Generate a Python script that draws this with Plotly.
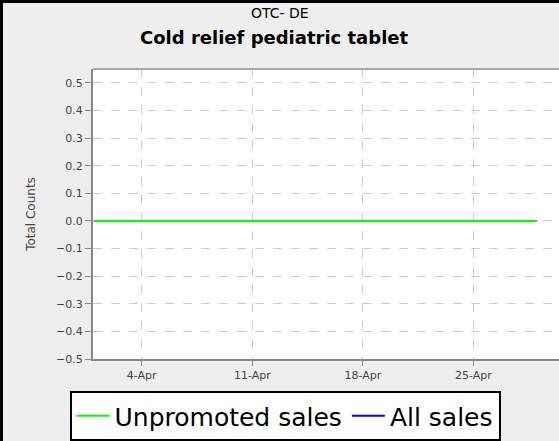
import plotly.graph_objects as go
import pandas as pd

dates = pd.date_range("2011-04-01", "2011-04-29", freq="D").strftime("%Y-%m-%d").tolist()
unpromoted = [0] * len(dates)
all_sales = [0] * len(dates)
tick_vals = ["2011-04-04", "2011-04-11", "2011-04-18", "2011-04-25"]
tick_text = ["4-Apr", "11-Apr", "18-Apr", "25-Apr"]
y_ticks = [-0.5, -0.4, -0.3, -0.2, -0.1, 0.0, 0.1, 0.2, 0.3, 0.4, 0.5]

W, H = 559, 441
L, R, T, B = 93, 0, 69, 82
PW, PH = W - L - R, H - T - B


def px(x):
    return (x - L) / PW


def py(y):
    return (H - B - y) / PH


fig = go.Figure()
fig.add_trace(go.Scatter(x=dates, y=all_sales, mode="lines", name="All sales",
                         line=dict(color="#0000ff", width=2), legendrank=2))
fig.add_trace(go.Scatter(x=dates, y=unpromoted, mode="lines", name="Unpromoted sales",
                         line=dict(color="#00ff00", width=2), legendrank=1))

fig.update_layout(
    width=W, height=H,
    margin=dict(l=L, r=R, t=T, b=B, autoexpand=False),
    paper_bgcolor="#000000",
    plot_bgcolor="#ffffff",
    font=dict(family="DejaVu Sans", color="#444444"),
    showlegend=True,
    legend=dict(orientation="h", x=px(285), xanchor="center", y=py(391), yanchor="top",
                bgcolor="#ffffff", bordercolor="#000000", borderwidth=2,
                font=dict(size=25, color="#000000", family="DejaVu Sans"),
                itemwidth=33, traceorder="normal"),
    xaxis=dict(range=["2011-03-31 22:00", "2011-04-30 10:00"], tickvals=tick_vals, ticktext=tick_text,
               showgrid=True, gridcolor="#cccccc", griddash="dash", gridwidth=1,
               showline=True, linecolor="#888888", linewidth=2,
               ticks="outside", ticklen=5, tickcolor="#888888",
               tickfont=dict(size=11, color="#444444"), zeroline=False),
    yaxis=dict(range=[-0.5, 0.55], tickvals=y_ticks, tickformat=".1f",
               showgrid=True, gridcolor="#cccccc", griddash="dash", gridwidth=1,
               showline=True, linecolor="#888888", linewidth=2,
               ticks="outside", ticklen=6, tickcolor="#888888",
               tickfont=dict(size=11, color="#444444"), zeroline=False,
               title=dict(text="Total Counts", font=dict(size=12, color="#444444"), standoff=18)),
)

# light gray chart background inside the black frame (frame shows on left and top only)
fig.add_shape(type="rect", xref="paper", yref="paper", x0=px(3), x1=px(W + 20), y0=py(H + 20), y1=py(3),
              line=dict(width=0), fillcolor="#eeeeee", layer="below")
# white plot area
fig.add_shape(type="rect", xref="paper", yref="paper", x0=0, x1=1, y0=0, y1=1,
              line=dict(width=0), fillcolor="#ffffff", layer="below")
# top border of plot area
fig.add_shape(type="line", xref="paper", yref="paper", x0=0, x1=1, y0=1, y1=1,
              line=dict(color="#aaaaaa", width=2))

fig.add_annotation(text="OTC- DE", xref="paper", yref="paper", x=px(279.5), y=py(13),
                   showarrow=False, font=dict(size=14, color="#000000", family="DejaVu Sans"),
                   xanchor="center", yanchor="middle")
fig.add_annotation(text="<b>Cold relief pediatric tablet</b>", xref="paper", yref="paper",
                   x=px(274), y=py(37),
                   showarrow=False, font=dict(size=18, color="#000000", family="DejaVu Sans"),
                   xanchor="center", yanchor="middle")

fig.write_html("out.html", config={"displayModeBar": False},
               post_script="document.body.style.margin='0';document.body.style.overflow='hidden';")
